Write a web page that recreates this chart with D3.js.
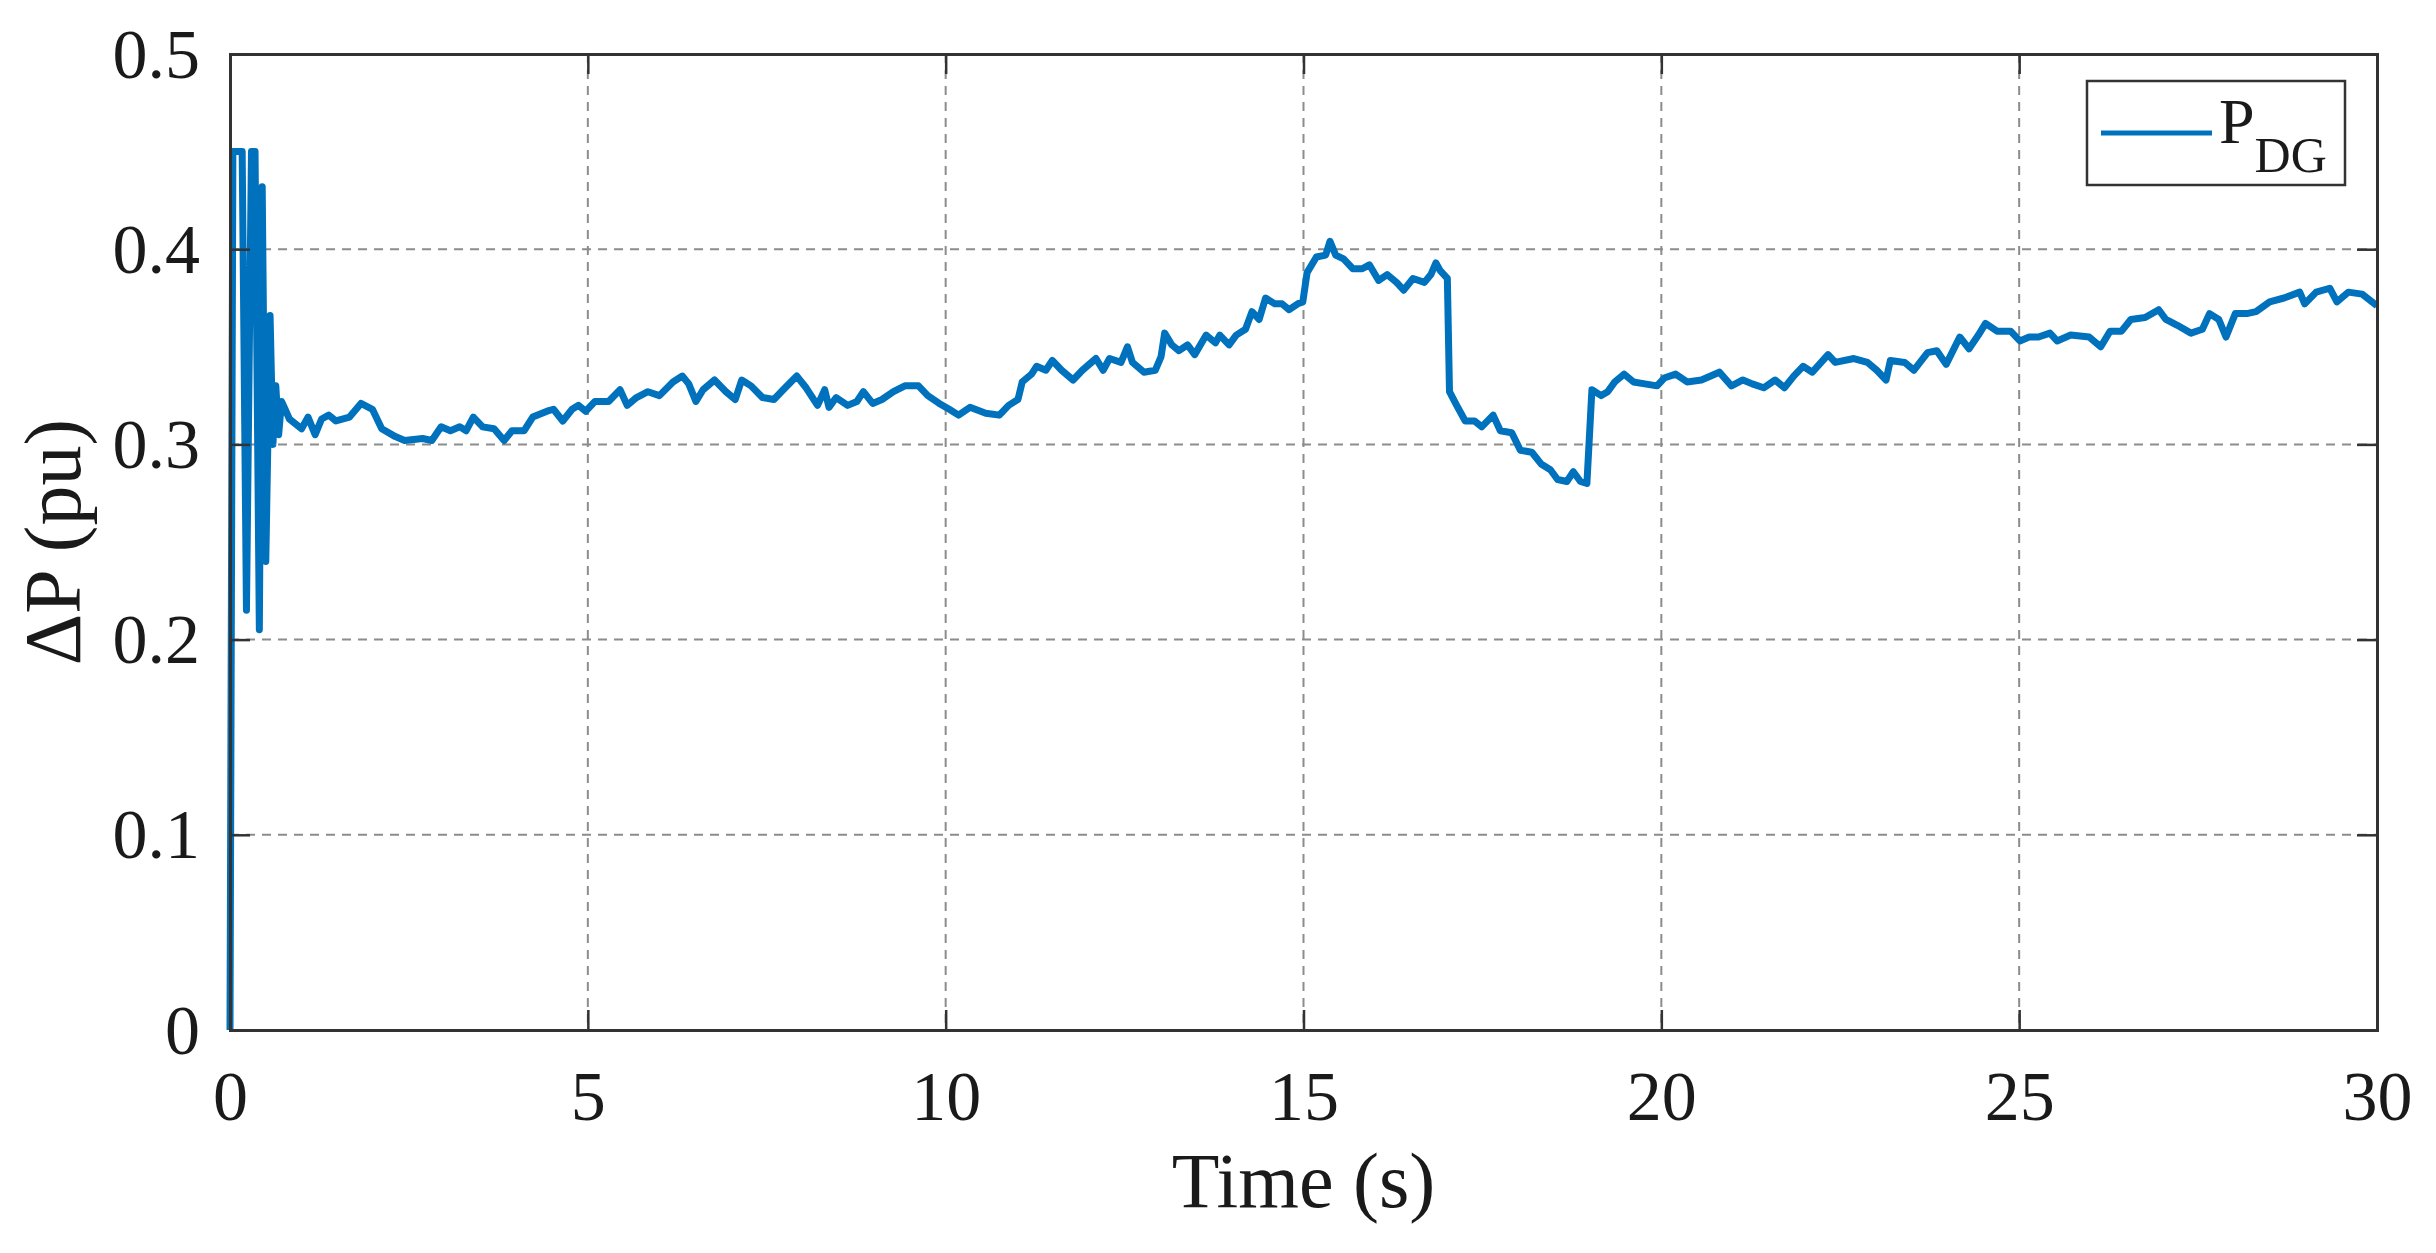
<!DOCTYPE html>
<html>
<head>
<meta charset="utf-8">
<script src="https://cdn.jsdelivr.net/npm/d3@7"></script>
<style>
  body { margin: 0; background: #fff; }
  text { font-family: "Liberation Serif", "Times New Roman", serif; fill: #1a1a1a; }
</style>
</head>
<body>
<svg id="chart"></svg>
<script>
// time axis (s) and DG power deviation (pu)
const timeS = [
  0, 0.04, 0.17, 0.23, 0.30, 0.35, 0.41, 0.45, 0.50, 0.56, 0.60, 0.64, 0.68, 0.72, 0.77,
  0.83, 1.0, 1.09, 1.19, 1.28, 1.38, 1.48, 1.67, 1.83, 1.99, 2.12, 2.31, 2.44, 2.69, 2.82,
  2.95, 3.08, 3.21, 3.30, 3.40, 3.53, 3.69, 3.83, 3.94, 4.11, 4.23, 4.43, 4.52, 4.65, 4.78,
  4.87, 4.97, 5.10, 5.29, 5.45, 5.55, 5.68, 5.84, 6.0, 6.19, 6.32, 6.41, 6.51, 6.61, 6.77,
  6.93, 7.06, 7.15, 7.28, 7.44, 7.60, 7.73, 7.92, 8.05, 8.21, 8.31, 8.37, 8.47, 8.63, 8.76,
  8.85, 8.98, 9.11, 9.27, 9.43, 9.62, 9.75, 9.91, 10.05, 10.18, 10.34, 10.56, 10.75, 10.88, 11.01,
  11.07, 11.2, 11.27, 11.4, 11.49, 11.62, 11.78, 11.91, 12.1, 12.2, 12.29, 12.45, 12.54, 12.61, 12.77,
  12.93, 13.01, 13.06, 13.16, 13.26, 13.38, 13.48, 13.64, 13.77, 13.83, 13.96, 14.06, 14.19, 14.28, 14.38,
  14.47, 14.6, 14.7, 14.8, 14.92, 14.99, 15.05, 15.18, 15.31, 15.37, 15.45, 15.56, 15.69, 15.82, 15.92,
  16.05, 16.17, 16.3, 16.4, 16.53, 16.69, 16.78, 16.85, 16.91, 17.01, 17.04, 17.14, 17.26, 17.39, 17.49,
  17.65, 17.75, 17.91, 18.03, 18.19, 18.32, 18.45, 18.55, 18.68, 18.77, 18.87, 18.96, 19.03, 19.16, 19.25,
  19.35, 19.48, 19.61, 19.77, 19.94, 20.04, 20.2, 20.36, 20.56, 20.81, 20.98, 21.14, 21.27, 21.43, 21.59,
  21.72, 21.85, 21.98, 22.11, 22.33, 22.43, 22.69, 22.88, 23.01, 23.14, 23.2, 23.4, 23.53, 23.72, 23.85,
  23.98, 24.17, 24.3, 24.43, 24.53, 24.69, 24.88, 25.01, 25.14, 25.27, 25.43, 25.53, 25.72, 25.98, 26.14,
  26.27, 26.43, 26.56, 26.76, 26.95, 27.05, 27.21, 27.4, 27.56, 27.66, 27.79, 27.89, 28.02, 28.18, 28.31,
  28.5, 28.7, 28.92, 28.99, 29.15, 29.34, 29.44, 29.6, 29.79, 30.0
];
const deltaP = [
  0, 0.45, 0.45, 0.215, 0.45, 0.45, 0.205, 0.432, 0.24, 0.366, 0.30, 0.33, 0.305, 0.322, 0.318,
  0.313, 0.308, 0.314, 0.305, 0.313, 0.315, 0.312, 0.314, 0.321, 0.318, 0.308, 0.304, 0.302, 0.303, 0.302,
  0.309, 0.307, 0.309, 0.307, 0.314, 0.309, 0.308, 0.302, 0.307, 0.307, 0.314, 0.317, 0.318, 0.312, 0.318,
  0.320, 0.317, 0.322, 0.322, 0.328, 0.320, 0.324, 0.327, 0.325, 0.332, 0.335, 0.331, 0.322, 0.328, 0.333,
  0.327, 0.323, 0.333, 0.330, 0.324, 0.323, 0.328, 0.335, 0.329, 0.320, 0.328, 0.319, 0.324, 0.320, 0.322,
  0.327, 0.321, 0.323, 0.327, 0.330, 0.330, 0.325, 0.321, 0.318, 0.315, 0.319, 0.316, 0.315, 0.320, 0.323,
  0.332, 0.336, 0.340, 0.338, 0.343, 0.338, 0.333, 0.338, 0.344, 0.338, 0.344, 0.342, 0.350, 0.342, 0.337,
  0.338, 0.345, 0.357, 0.351, 0.348, 0.351, 0.346, 0.356, 0.352, 0.356, 0.351, 0.356, 0.359, 0.368, 0.364,
  0.375, 0.372, 0.372, 0.369, 0.372, 0.373, 0.388, 0.396, 0.397, 0.404, 0.397, 0.395, 0.390, 0.390, 0.392,
  0.384, 0.387, 0.383, 0.379, 0.385, 0.383, 0.387, 0.393, 0.389, 0.385, 0.327, 0.320, 0.312, 0.312, 0.309,
  0.315, 0.307, 0.306, 0.297, 0.296, 0.290, 0.287, 0.282, 0.281, 0.286, 0.281, 0.280, 0.328, 0.325, 0.327,
  0.332, 0.336, 0.332, 0.331, 0.330, 0.334, 0.336, 0.332, 0.333, 0.337, 0.330, 0.333, 0.331, 0.329, 0.333,
  0.329, 0.335, 0.340, 0.337, 0.346, 0.342, 0.344, 0.342, 0.338, 0.333, 0.343, 0.342, 0.338, 0.347, 0.348,
  0.341, 0.355, 0.349, 0.356, 0.362, 0.358, 0.358, 0.353, 0.355, 0.355, 0.357, 0.353, 0.356, 0.355, 0.350,
  0.358, 0.358, 0.364, 0.365, 0.369, 0.364, 0.361, 0.357, 0.359, 0.367, 0.364, 0.355, 0.367, 0.367, 0.368,
  0.373, 0.375, 0.378, 0.372, 0.378, 0.380, 0.373, 0.378, 0.377, 0.371
];
const xTicks = [0, 5, 10, 15, 20, 25, 30];
const yTicks = [0, 0.1, 0.2, 0.3, 0.4, 0.5];
const yTickLabels = ["0", "0.1", "0.2", "0.3", "0.4", "0.5"];

const W = 2436, H = 1253;
const margin = {top: 54, right: 59, bottom: 223, left: 230};
const width = W - margin.left - margin.right,
      height = H - margin.top - margin.bottom;
const lineColor = "#0072bd";
const axisColor = "#333";

const svg = d3.select("#chart").attr("width", W).attr("height", H);
const g = svg.append("g").attr("transform", "translate(" + margin.left + "," + margin.top + ")");

const x = d3.scaleLinear().domain([0, 30]).range([0, width]);
const y = d3.scaleLinear().domain([0, 0.5]).range([height, 0]);

// grid
g.append("g").selectAll("line").data(xTicks.slice(1, -1)).join("line")
    .attr("x1", d => x(d)).attr("x2", d => x(d))
    .attr("y1", 0).attr("y2", height)
    .attr("stroke", "#8c8c8c").attr("stroke-width", 2)
    .attr("stroke-dasharray", "9,7");
g.append("g").selectAll("line").data(yTicks.slice(1, -1)).join("line")
    .attr("x1", 0).attr("x2", width)
    .attr("y1", d => y(d)).attr("y2", d => y(d))
    .attr("stroke", "#8c8c8c").attr("stroke-width", 2)
    .attr("stroke-dasharray", "9,7");

// data line
const line = d3.line().x((d, i) => x(timeS[i])).y(d => y(d));
g.append("path")
    .datum(deltaP)
    .attr("fill", "none")
    .attr("stroke", lineColor)
    .attr("stroke-width", 7)
    .attr("stroke-linejoin", "round")
    .attr("d", line);

// axes with inward ticks on all four sides
const xAxis = g.append("g").attr("transform", "translate(0," + height + ")")
    .call(d3.axisBottom(x).tickValues(xTicks).tickSize(-20).tickPadding(40).tickFormat(d3.format("d")));
const xTop = g.append("g")
    .call(d3.axisTop(x).tickValues(xTicks).tickSize(-20).tickFormat(""));
const yAxis = g.append("g")
    .call(d3.axisLeft(y).tickValues(yTicks).tickSize(-20).tickPadding(30).tickFormat((d, i) => yTickLabels[i]));
const yRight = g.append("g").attr("transform", "translate(" + width + ",0)")
    .call(d3.axisRight(y).tickValues(yTicks).tickSize(-20).tickFormat(""));

[xAxis, xTop, yAxis, yRight].forEach(a => {
    a.select(".domain").attr("stroke", axisColor).attr("stroke-width", 3);
    a.selectAll(".tick line").attr("stroke", axisColor).attr("stroke-width", 2.5);
    a.selectAll("text").attr("font-size", 70).attr("fill", "#1a1a1a")
        .style("font-family", "'Liberation Serif', 'Times New Roman', serif");
});
xAxis.selectAll("text").attr("dy", "0.71em");
yAxis.selectAll("text").attr("dy", "0.33em");

// axis labels
svg.append("text")
    .attr("x", margin.left + width / 2)
    .attr("y", 1207)
    .attr("text-anchor", "middle")
    .attr("font-size", 78)
    .text("Time (s)");
svg.append("text")
    .attr("transform", "translate(80," + (margin.top + height / 2) + ") rotate(-90)")
    .attr("text-anchor", "middle")
    .attr("font-size", 80)
    .text("\u0394P (pu)");

// legend
const lg = svg.append("g");
lg.append("rect")
    .attr("x", 2087).attr("y", 81).attr("width", 258).attr("height", 104)
    .attr("fill", "#fff").attr("stroke", axisColor).attr("stroke-width", 2.5);
lg.append("line")
    .attr("x1", 2101).attr("x2", 2212).attr("y1", 133).attr("y2", 133)
    .attr("stroke", lineColor).attr("stroke-width", 5);
const lt = lg.append("text").attr("x", 2219).attr("y", 143).attr("font-size", 64);
lt.append("tspan").text("P");
lt.append("tspan").attr("dy", 29).attr("font-size", 50).text("DG");
</script>
</body>
</html>
